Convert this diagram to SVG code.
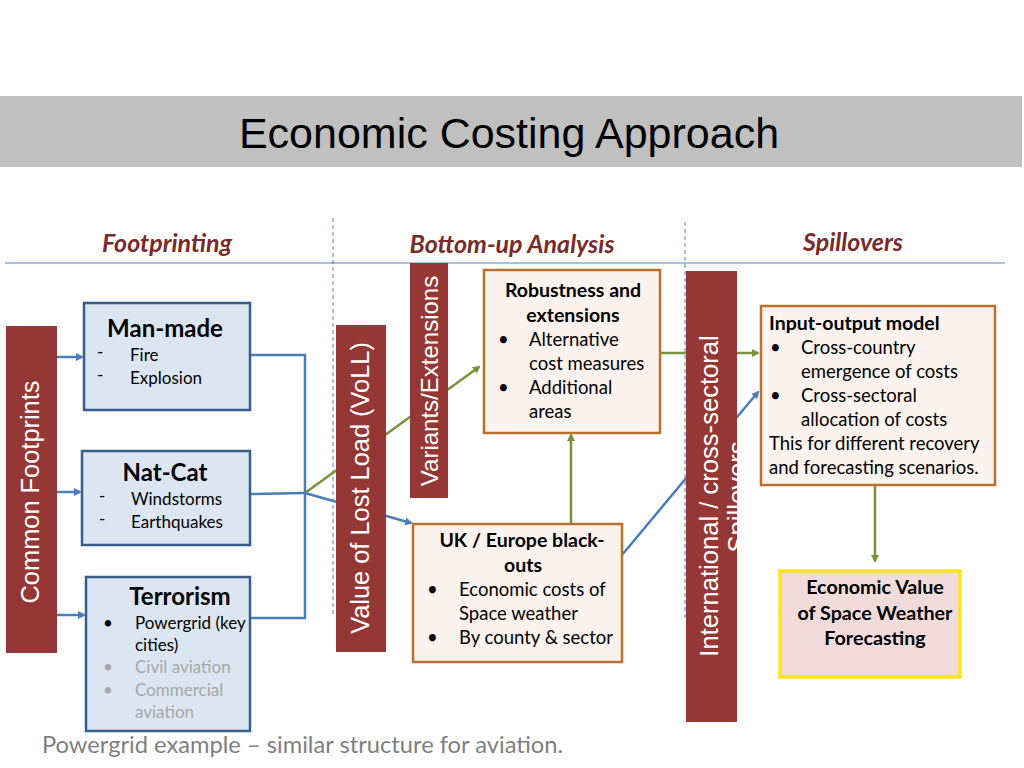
<svg xmlns="http://www.w3.org/2000/svg" width="1024" height="768" viewBox="0 0 1024 768">
<style>
.c{font-family:Lato,"Carlito","Liberation Sans",sans-serif}
.a{font-family:"Liberation Sans",Arial,sans-serif}
.hd{font-family:Lato,"Liberation Sans",sans-serif;font-weight:bold;font-style:italic;font-size:25px;fill:#772c2a;text-anchor:middle}
.bar{fill:#953735}
.bt{font-family:"Liberation Sans",Arial,sans-serif;fill:#fff;text-anchor:middle}
.blue{fill:#dce6f2;stroke:#385d8a;stroke-width:2.5}
.peach{fill:#fdf3ee;stroke:#b8712f;stroke-width:2.5}
.b{font-weight:bold}
.t18{font-size:18.5px}
.tb{font-size:19.5px;font-weight:bold}
.t16{font-size:17px}
.cb{stroke:#4a7ebb;stroke-width:2.5;fill:none}
.cg{stroke:#77933c;stroke-width:2.5;fill:none}
</style>
<defs>
<marker id="ab" markerWidth="8" markerHeight="8" refX="6" refY="4" orient="auto" markerUnits="userSpaceOnUse" viewBox="0 0 8 8"><path d="M0,0 L8,4 L0,8 Z" fill="#4a7ebb"/></marker>
<marker id="ag" markerWidth="8" markerHeight="8" refX="6" refY="4" orient="auto" markerUnits="userSpaceOnUse" viewBox="0 0 8 8"><path d="M0,0 L8,4 L0,8 Z" fill="#77933c"/></marker>
<clipPath id="intclip"><rect x="686" y="271" width="51" height="451"/></clipPath>
</defs>
<rect width="1024" height="768" fill="#fff"/>
<g id="title">
<rect x="0" y="96" width="1022" height="71" fill="#c0c0c0"/>
<text x="509" y="148" class="a" font-size="43" text-anchor="middle" fill="#000">Economic Costing Approach</text>
</g>
<g id="guides">
<line x1="5" y1="263" x2="1005" y2="263" stroke="#4f81bd" stroke-width="1.2"/>
<line x1="333" y1="218" x2="333" y2="615" stroke="#4f81bd" stroke-width="1" stroke-dasharray="4,3"/>
<line x1="685" y1="222" x2="685" y2="620" stroke="#4f81bd" stroke-width="1" stroke-dasharray="4,3"/>
<text x="167" y="252" class="hd">Footprinting</text>
<text x="512" y="253" class="hd">Bottom-up Analysis</text>
<text x="853" y="251" class="hd">Spillovers</text>
</g>
<g id="connectors">
<line x1="57" y1="357" x2="82" y2="357" class="cb" marker-end="url(#ab)"/>
<line x1="57" y1="492" x2="80" y2="492" class="cb" marker-end="url(#ab)"/>
<line x1="57" y1="615" x2="84" y2="615" class="cb" marker-end="url(#ab)"/>
<polyline points="250,355 305,355 305,618 250,618" class="cb"/>
<line x1="250" y1="494" x2="305" y2="493" class="cb"/>
<line x1="305" y1="493" x2="479" y2="367" class="cg" marker-end="url(#ag)"/>
<line x1="305" y1="493" x2="411" y2="523" class="cb" marker-end="url(#ab)"/>
<line x1="571" y1="523" x2="571" y2="435" class="cg" marker-end="url(#ag)"/>
<line x1="660" y1="353" x2="758" y2="353" class="cg" marker-end="url(#ag)"/>
<line x1="622" y1="555" x2="758" y2="392" class="cb" marker-end="url(#ab)"/>
<line x1="875" y1="485" x2="875" y2="561" class="cg" marker-end="url(#ag)"/>
</g>
<g id="common-footprints">
<rect x="6" y="326" width="51" height="327" class="bar"/>
<text transform="translate(39,492) rotate(-90)" class="bt" font-size="25.4">Common Footprints</text>
</g>
<g id="man-made">
<rect x="84" y="303" width="166" height="107" class="blue"/>
<text x="165" y="337" class="c b" font-size="24" text-anchor="middle">Man-made</text>
<text x="97" y="358" class="c t16">-</text><text x="130" y="361" class="c t16">Fire</text>
<text x="97" y="381" class="c t16">-</text><text x="130" y="384" class="c t16">Explosion</text>
</g>
<g id="nat-cat">
<rect x="82" y="451" width="168" height="94" class="blue"/>
<text x="165" y="481" class="c b" font-size="24" text-anchor="middle">Nat-Cat</text>
<text x="99" y="502" class="c t16">-</text><text x="131" y="505" class="c t16">Windstorms</text>
<text x="99" y="525" class="c t16">-</text><text x="131" y="528" class="c t16">Earthquakes</text>
</g>
<g id="terrorism">
<rect x="86" y="577" width="164" height="154" class="blue"/>
<text x="180" y="605" class="c b" font-size="24" text-anchor="middle">Terrorism</text>
<text x="103" y="629" class="c t16">•</text><text x="135" y="629" class="c t16">Powergrid (key</text>
<text x="135" y="651" class="c t16">cities)</text>
<text x="103" y="673" class="c t16" fill="#a6a6a6">•</text><text x="135" y="673" class="c t16" fill="#a6a6a6">Civil aviation</text>
<text x="103" y="696" class="c t16" fill="#a6a6a6">•</text><text x="135" y="696" class="c t16" fill="#a6a6a6">Commercial</text>
<text x="135" y="718" class="c t16" fill="#a6a6a6">aviation</text>
</g>
<g id="voll">
<rect x="336" y="325" width="50" height="327" class="bar"/>
<text transform="translate(369,488) rotate(-90)" class="bt" font-size="25.4">Value of Lost Load (VoLL)</text>
</g>
<g id="variants">
<rect x="410" y="263" width="38" height="235" class="bar"/>
<text transform="translate(438,381) rotate(-90)" class="bt" font-size="24">Variants/Extensions</text>
</g>
<g id="robustness">
<rect x="484" y="270" width="176" height="163" class="peach"/>
<text x="573" y="297" class="c tb" text-anchor="middle">Robustness and</text>
<text x="573" y="322" class="c tb" text-anchor="middle">extensions</text>
<text x="498" y="346" class="c t18">•</text><text x="529" y="346" class="c t18">Alternative</text>
<text x="529" y="370" class="c t18">cost measures</text>
<text x="498" y="394" class="c t18">•</text><text x="529" y="394" class="c t18">Additional</text>
<text x="529" y="418" class="c t18">areas</text>
</g>
<g id="uk-europe">
<rect x="413" y="524" width="209" height="138" class="peach"/>
<text x="522" y="547" class="c tb" text-anchor="middle">UK / Europe black-</text>
<text x="523" y="572" class="c tb" text-anchor="middle">outs</text>
<text x="427" y="596" class="c t18">•</text><text x="459" y="596" class="c t18">Economic costs of</text>
<text x="459" y="620" class="c t18">Space weather</text>
<text x="427" y="644" class="c t18">•</text><text x="459" y="644" class="c t18">By county &amp; sector</text>
</g>
<g id="international">
<rect x="686" y="271" width="51" height="451" class="bar"/>
<g clip-path="url(#intclip)">
<text transform="translate(718,496) rotate(-90)" class="bt" font-size="25.6">International / cross-sectoral</text>
<text transform="translate(746,497) rotate(-90)" class="bt" font-size="25.6">Spillovers</text>
</g>
</g>
<g id="input-output">
<rect x="761" y="306" width="234" height="179" class="peach"/>
<text x="769" y="330" class="c tb">Input-output model</text>
<text x="770" y="354" class="c t18">•</text><text x="801" y="354" class="c t18">Cross-country</text>
<text x="801" y="378" class="c t18">emergence of costs</text>
<text x="770" y="402" class="c t18">•</text><text x="801" y="402" class="c t18">Cross-sectoral</text>
<text x="801" y="426" class="c t18">allocation of costs</text>
<text x="769" y="450" class="c t18">This for different recovery</text>
<text x="769" y="474" class="c t18">and forecasting scenarios.</text>
</g>
<g id="economic-value">
<rect x="780" y="571" width="180" height="106" fill="#f2dcdb" stroke="#ffe51a" stroke-width="3.5"/>
<text x="875" y="594" class="c b" font-size="19.7" text-anchor="middle">Economic Value</text>
<text x="875" y="620" class="c b" font-size="19.7" text-anchor="middle">of Space Weather</text>
<text x="875" y="645" class="c b" font-size="19.7" text-anchor="middle">Forecasting</text>
</g>
<g id="footer">
<text x="42" y="753" class="c" font-size="23.7" fill="#7f7f7f">Powergrid example – similar structure for aviation.</text>
</g>
</svg>
